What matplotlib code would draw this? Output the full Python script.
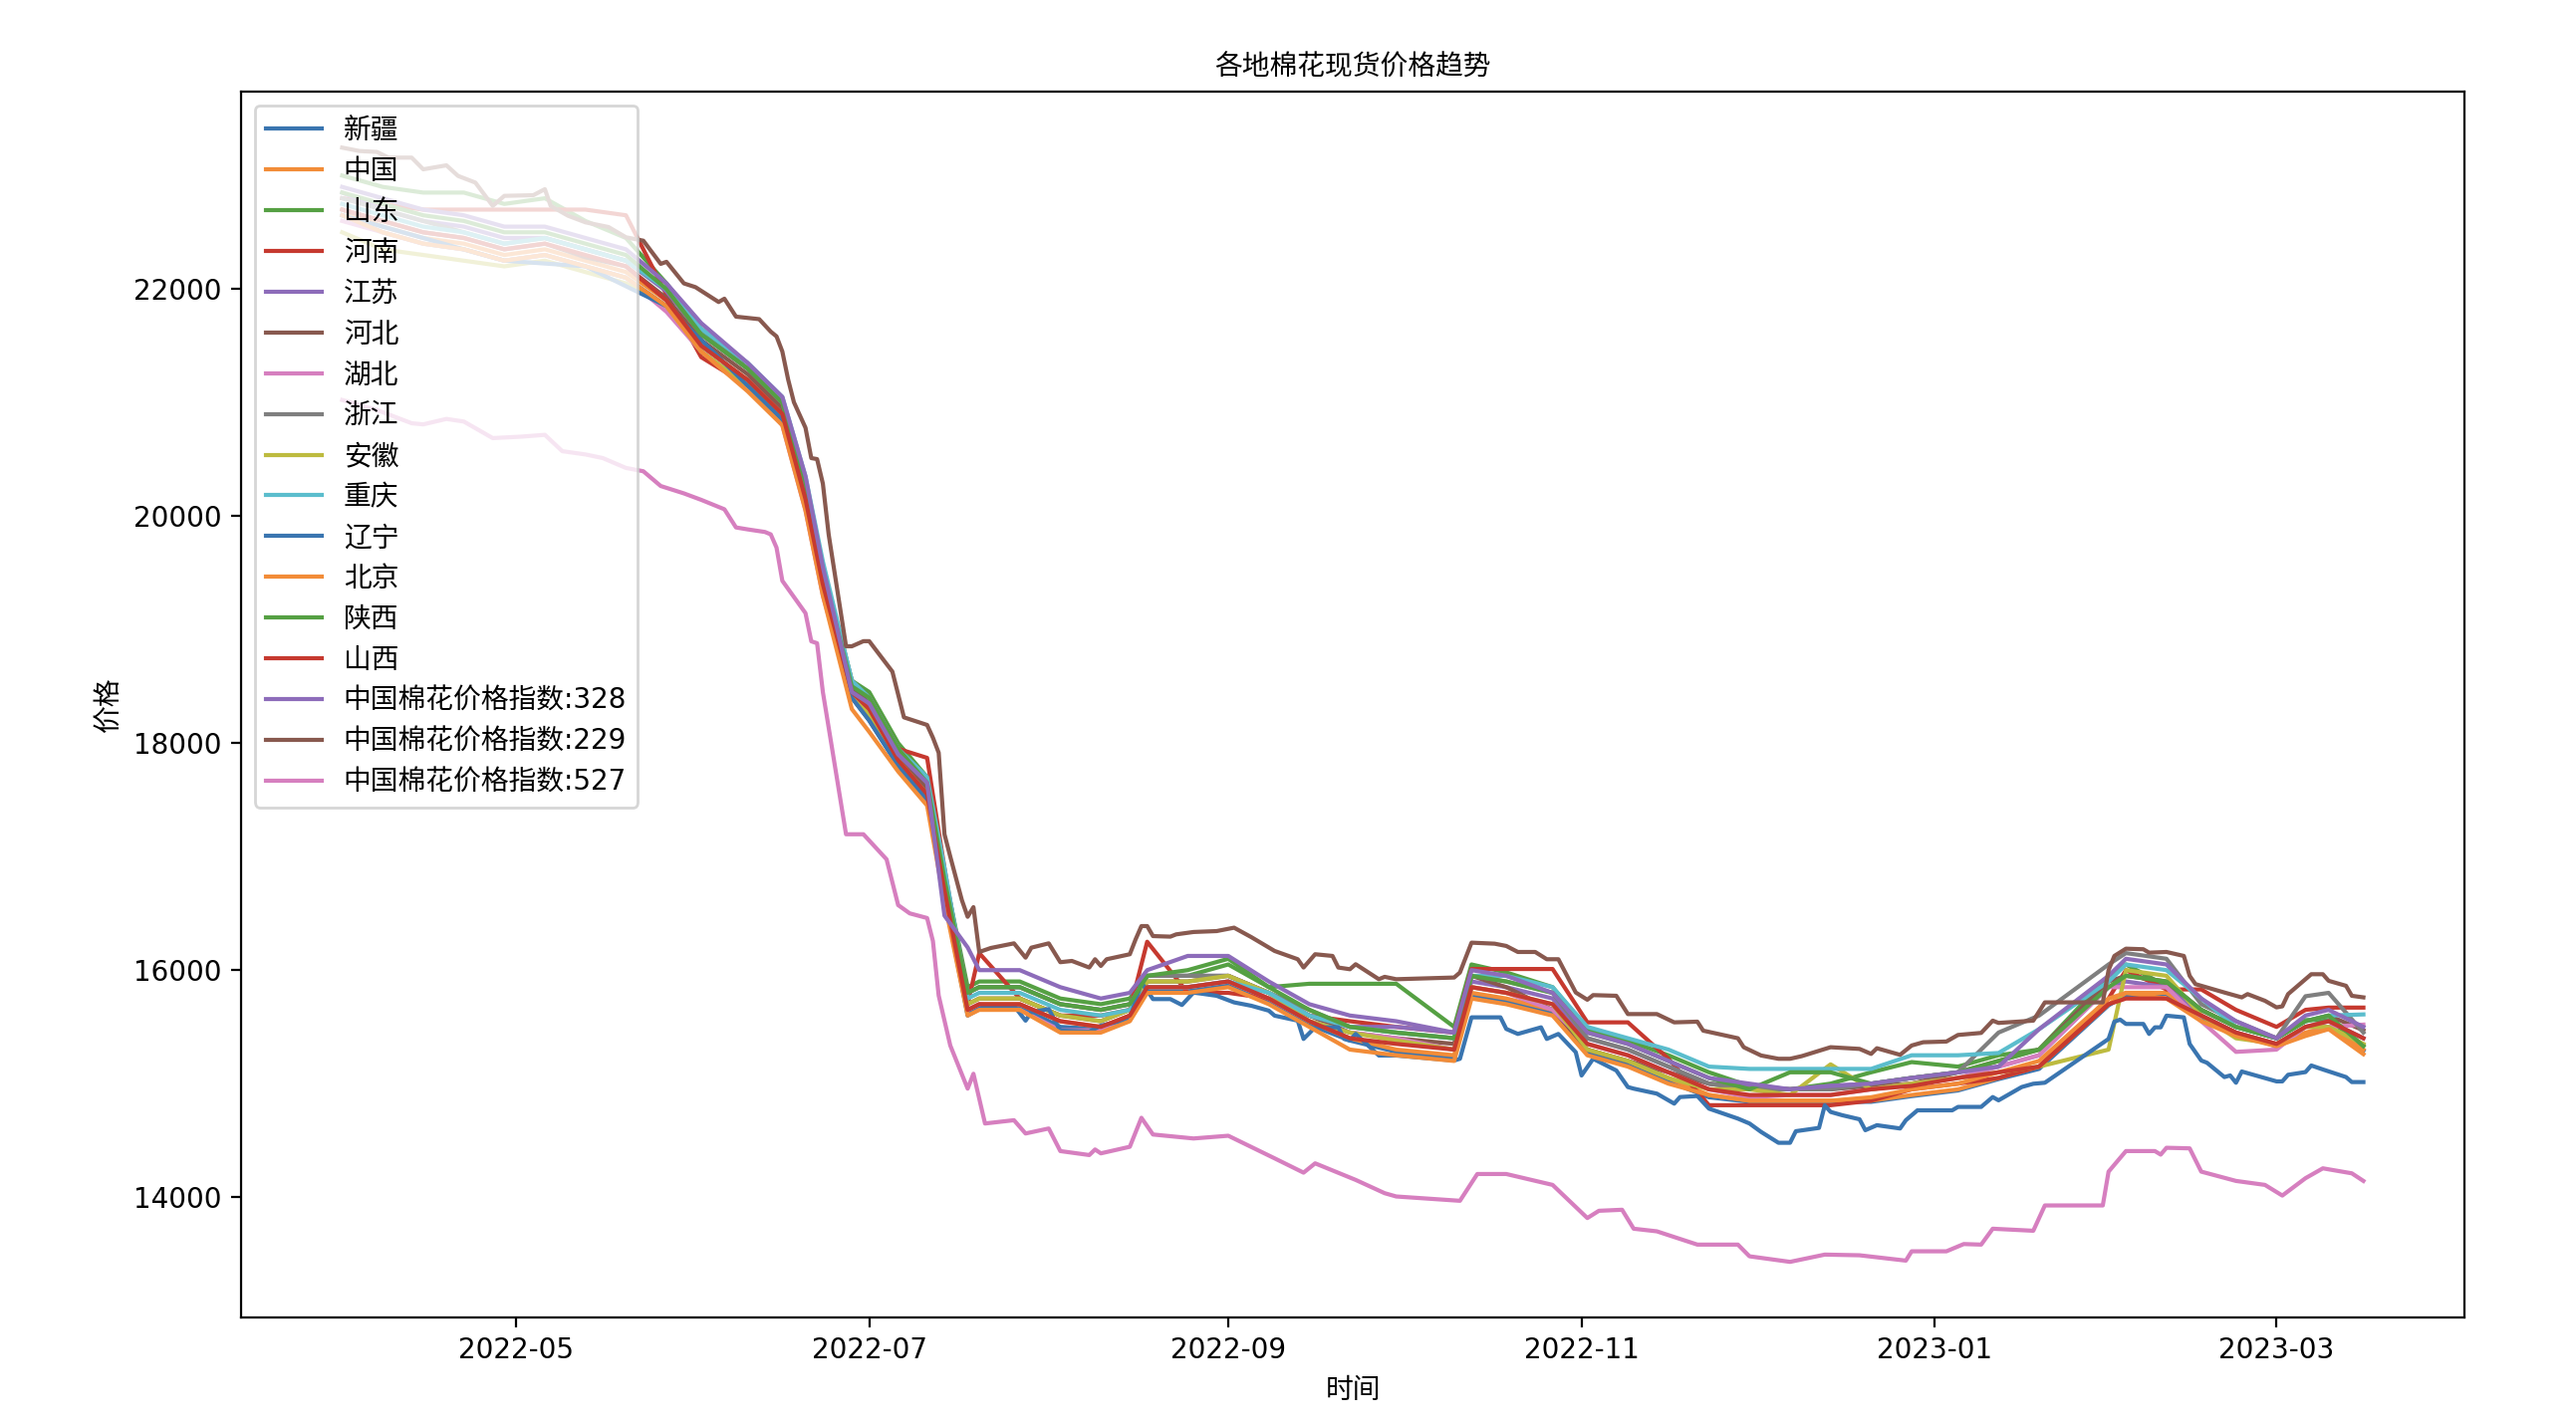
import matplotlib
matplotlib.use("Agg")
import matplotlib.pyplot as plt
import matplotlib.dates as mdates
from cycler import cycler
import pandas as pd

plt.rcParams['font.family'] = ['DejaVu Sans', 'Noto Sans CJK SC']
plt.rcParams['axes.unicode_minus'] = False
# tab10 as it appears in the reference screenshot (slightly muted)
plt.rcParams['axes.prop_cycle'] = cycler(color=[
    "#3a75b0", "#f28c38", "#55a043", "#c6392f", "#8d6cba",
    "#88594f", "#d67fbf", "#7f7f7f", "#bdbb3f", "#5bbdcd",
])

# ---------------------------------------------------------------------------
# Data
# ---------------------------------------------------------------------------

# shared weekly-ish sampling for the regional cluster
grid_dates = [
    "2022-04-01", "2022-04-08", "2022-04-15", "2022-04-22", "2022-04-29",
    "2022-05-06", "2022-05-13", "2022-05-20", "2022-05-27", "2022-06-02",
    "2022-06-10", "2022-06-16", "2022-06-20", "2022-06-23", "2022-06-28",
    "2022-07-01", "2022-07-06", "2022-07-11", "2022-07-14", "2022-07-18",
    "2022-07-20", "2022-07-27", "2022-08-03", "2022-08-10", "2022-08-15",
    "2022-08-18", "2022-08-25", "2022-09-01", "2022-09-08", "2022-09-15",
    "2022-09-22", "2022-09-30", "2022-10-10", "2022-10-13", "2022-10-19",
    "2022-10-27", "2022-11-02", "2022-11-09", "2022-11-16", "2022-11-23",
    "2022-11-30", "2022-12-07", "2022-12-14", "2022-12-21", "2022-12-28",
    "2023-01-05", "2023-01-12", "2023-01-19", "2023-01-31", "2023-02-03",
    "2023-02-10", "2023-02-16", "2023-02-22", "2023-03-01", "2023-03-06",
    "2023-03-10", "2023-03-16",
]

xinjiang = [
    22650, 22500, 22400, 22350, 22250,
    22300, 22200, 22100, 21850, 21450,
    21150, 20850, 20100, 19350, 18400,
    18200, 17800, 17500, 16650, 15620,
    15680, 15680, 15500, 15480, 15560,
    15820, 15830, 15880, 15720, 15520,
    15380, 15280, 15230, 15780, 15730,
    15620, 15280, 15170, 15020, 14880,
    14840, 14830, 14840, 14840, 14890,
    14940, 15040, 15130, 15690, 15780,
    15790, 15580, 15440, 15330, 15440,
    15490, 15290,
]
zhongguo = [
    22700, 22550, 22450, 22400, 22300,
    22350, 22250, 22150, 21900, 21500,
    21200, 20900, 20150, 19400, 18450,
    18250, 17850, 17550, 16700, 15650,
    15700, 15700, 15550, 15500, 15600,
    15850, 15850, 15900, 15750, 15550,
    15400, 15300, 15250, 15800, 15750,
    15650, 15300, 15200, 15050, 14900,
    14850, 14850, 14850, 14850, 14900,
    14950, 15050, 15150, 15700, 15800,
    15800, 15600, 15450, 15350, 15450,
    15500, 15300,
]
shandong = [
    23000, 22900, 22850, 22850, 22750,
    22800, 22600, 22450, 22050, 21650,
    21300, 21000, 20300, 19550, 18550,
    18450, 18000, 17700, 16850, 15850,
    15900, 15900, 15750, 15700, 15750,
    15950, 15950, 16050, 15850, 15880,
    15880, 15880, 15500, 16050, 15980,
    15850, 15480, 15380, 15250, 15100,
    14980, 14950, 15000, 15100, 15190,
    15150, 15250, 15300, 15950, 16050,
    15860, 15650, 15500, 15400, 15560,
    15560, 15340,
]
henan = [
    22800, 22750, 22700, 22700, 22700,
    22700, 22700, 22650, 21950, 21400,
    21150, 20850, 20100, 19400, 18500,
    18400, 17950, 17870, 16900, 15700,
    16150, 15750, 15600, 15600, 15650,
    16250, 15800, 15800, 15750, 15600,
    15550, 15500, 15450, 16010, 16010,
    16010, 15540, 15540, 15220, 14810,
    14810, 14810, 14810, 14850, 14950,
    15000, 15050, 15150, 15750, 16000,
    15830, 15830, 15650, 15500, 15650,
    15670, 15670,
]
jiangsu = [
    22850, 22700, 22600, 22550, 22450,
    22450, 22350, 22250, 21980, 21600,
    21300, 21000, 20250, 19500, 18450,
    18350, 17900, 17650, 16800, 15800,
    15850, 15850, 15700, 15650, 15700,
    15950, 15950, 15950, 15800, 15600,
    15500, 15500, 15450, 15900, 15850,
    15750, 15400, 15300, 15150, 15000,
    14980, 14950, 14980, 15000, 15050,
    15100, 15150, 15250, 15850, 15900,
    15850, 15600, 15450, 15350, 15500,
    15550, 15400,
]
hebei = [
    22700, 22600, 22500, 22450, 22350,
    22400, 22280, 22200, 21920, 21550,
    21250, 20950, 20200, 19450, 18500,
    18350, 17900, 17600, 16750, 15700,
    15750, 15750, 15600, 15550, 15650,
    15900, 15900, 15950, 15800, 15600,
    15450, 15400, 15350, 15950, 15850,
    15650, 15300, 15200, 15100, 15000,
    14950, 14950, 14950, 14980, 15000,
    15100, 15200, 15300, 15900, 15950,
    15900, 15650, 15500, 15400, 15550,
    15600, 15470,
]
hubei = [
    22600, 22500, 22400, 22350, 22250,
    22300, 22200, 22100, 21800, 21450,
    21150, 20800, 20050, 19300, 18400,
    18250, 17800, 17500, 16700, 15650,
    15700, 15650, 15470, 15470, 15600,
    15850, 15850, 15900, 15750, 15550,
    15450, 15400, 15300, 15850, 15800,
    15650, 15350, 15250, 15100, 14950,
    14880, 14900, 14900, 14950, 15000,
    15050, 15150, 15250, 15850, 15850,
    15850, 15550, 15280, 15300, 15500,
    15500, 15520,
]
zhejiang = [
    22800, 22700, 22600, 22500, 22400,
    22450, 22350, 22250, 22000, 21600,
    21300, 21000, 20250, 19550, 18550,
    18400, 17950, 17650, 16850, 15800,
    15850, 15850, 15700, 15650, 15700,
    15950, 15950, 15950, 15800, 15650,
    15500, 15450, 15400, 15950, 15900,
    15800, 15400, 15300, 15150, 15000,
    14950, 14950, 14950, 15000, 15050,
    15100, 15450, 15600, 16050, 16150,
    16100, 15700, 15550, 15400, 15770,
    15800, 15450,
]
anhui = [
    22500, 22350, 22300, 22250, 22200,
    22250, 22150, 22050, 21850, 21450,
    21150, 20850, 20100, 19350, 18400,
    18250, 17850, 17550, 16700, 15700,
    15750, 15750, 15600, 15550, 15650,
    15900, 15900, 15950, 15800, 15550,
    15450, 15380, 15300, 15850, 15800,
    15700, 15300, 15200, 15050, 14950,
    14950, 14900, 15170, 14950, 15000,
    15050, 15100, 15150, 15300, 16000,
    15950, 15600, 15400, 15350, 15500,
    15500, 15350,
]
chongqing = [
    22750, 22650, 22550, 22500, 22400,
    22450, 22350, 22250, 22000, 21650,
    21350, 21050, 20350, 19600, 18550,
    18400, 17950, 17700, 16900, 15750,
    15800, 15800, 15650, 15600, 15650,
    15850, 15850, 15900, 15800, 15600,
    15500, 15450, 15400, 15950, 15950,
    15850, 15500, 15400, 15300, 15150,
    15130, 15130, 15130, 15130, 15250,
    15250, 15270, 15480, 15900, 16050,
    16000, 15750, 15500, 15400, 15550,
    15600, 15610,
]
beijing = [
    22650, 22500, 22400, 22350, 22250,
    22300, 22200, 22100, 21850, 21450,
    21100, 20800, 20050, 19300, 18300,
    18100, 17750, 17450, 16600, 15600,
    15650, 15650, 15450, 15450, 15550,
    15800, 15800, 15850, 15700, 15500,
    15300, 15250, 15200, 15750, 15700,
    15600, 15250, 15150, 15000, 14900,
    14850, 14850, 14850, 14880, 14950,
    15000, 15100, 15200, 15750, 15800,
    15750, 15550, 15420, 15330, 15420,
    15480, 15260,
]
shaanxi = [
    22850, 22750, 22650, 22600, 22500,
    22500, 22400, 22300, 22000, 21600,
    21300, 21000, 20300, 19500, 18500,
    18400, 17950, 17650, 16800, 15800,
    15850, 15850, 15700, 15650, 15700,
    15950, 16000, 16100, 15850, 15650,
    15500, 15450, 15400, 15950, 15900,
    15800, 15450, 15350, 15200, 15050,
    14950, 15100, 15100, 15000, 15050,
    15100, 15200, 15300, 15850, 15950,
    15900, 15650, 15500, 15400, 15550,
    15600, 15330,
]
shanxi = [
    22700, 22600, 22500, 22450, 22350,
    22400, 22300, 22200, 21900, 21500,
    21200, 20900, 20150, 19400, 18450,
    18300, 17850, 17550, 16700, 15650,
    15700, 15700, 15550, 15500, 15600,
    15850, 15850, 15900, 15750, 15550,
    15400, 15350, 15300, 15850, 15800,
    15700, 15350, 15250, 15100, 14950,
    14900, 14900, 14900, 14950, 14980,
    15050, 15100, 15150, 15700, 15750,
    15750, 15600, 15450, 15350, 15500,
    15550, 15400,
]
cci_328 = [
    22900, 22800, 22700, 22650, 22550,
    22550, 22450, 22350, 22050, 21700,
    21350, 21050, 20350, 19550, 18450,
    18350, 17900, 17650, 16480, 16200,
    16000, 16000, 15850, 15750, 15800,
    16000, 16125, 16125, 15900, 15700,
    15600, 15550, 15450, 16000, 15950,
    15800, 15450, 15350, 15200, 15050,
    15000, 14950, 14980, 15000, 15050,
    15100, 15150, 15480, 15950, 16100,
    16050, 15750, 15550, 15400, 15600,
    15650, 15500,
]

# series that stand apart from the cluster get their own, denser sampling
liaoning_dates = [
    "2022-04-01", "2022-04-15", "2022-04-29", "2022-05-13", "2022-05-27",
    "2022-06-10", "2022-06-16", "2022-06-20", "2022-06-23", "2022-06-28",
    "2022-07-01", "2022-07-06", "2022-07-11", "2022-07-14", "2022-07-18",
    "2022-07-21", "2022-07-26", "2022-07-28", "2022-07-29", "2022-08-01",
    "2022-08-03", "2022-08-08", "2022-08-10", "2022-08-15", "2022-08-17",
    "2022-08-19", "2022-08-22", "2022-08-24", "2022-08-26", "2022-08-30",
    "2022-09-02", "2022-09-05", "2022-09-08", "2022-09-09", "2022-09-13",
    "2022-09-14", "2022-09-16", "2022-09-20", "2022-09-21", "2022-09-22",
    "2022-09-23", "2022-09-27", "2022-09-30", "2022-10-10", "2022-10-11",
    "2022-10-13", "2022-10-18", "2022-10-19", "2022-10-21", "2022-10-25",
    "2022-10-26", "2022-10-28", "2022-10-31", "2022-11-01", "2022-11-03",
    "2022-11-07", "2022-11-09", "2022-11-10", "2022-11-14", "2022-11-17",
    "2022-11-18", "2022-11-21", "2022-11-23", "2022-11-28", "2022-11-30",
    "2022-12-02", "2022-12-05", "2022-12-07", "2022-12-08", "2022-12-12",
    "2022-12-13", "2022-12-14", "2022-12-16", "2022-12-19", "2022-12-20",
    "2022-12-22", "2022-12-26", "2022-12-27", "2022-12-29", "2023-01-04",
    "2023-01-05", "2023-01-09", "2023-01-11", "2023-01-12", "2023-01-16",
    "2023-01-18", "2023-01-20", "2023-01-31", "2023-02-01", "2023-02-02",
    "2023-02-03", "2023-02-06", "2023-02-07", "2023-02-08", "2023-02-09",
    "2023-02-10", "2023-02-13", "2023-02-14", "2023-02-16", "2023-02-17",
    "2023-02-20", "2023-02-21", "2023-02-22", "2023-02-23", "2023-03-01",
    "2023-03-02", "2023-03-03", "2023-03-06", "2023-03-07", "2023-03-09",
    "2023-03-13", "2023-03-14", "2023-03-16",
]
liaoning = [
    22650, 22450, 22250, 22200, 21850,
    21150, 20850, 20100, 19350, 18400,
    18200, 17800, 17500, 16650, 15600,
    15686, 15686, 15555, 15630, 15657,
    15467, 15458, 15511, 15570, 15891,
    15745, 15745, 15693, 15803, 15774,
    15716, 15686, 15643, 15599, 15555,
    15394, 15496, 15496, 15394, 15380,
    15438, 15248, 15248, 15204, 15219,
    15584, 15584, 15482, 15438, 15496,
    15394, 15438, 15277, 15072, 15219,
    15116, 14970, 14956, 14912, 14824,
    14882, 14891, 14780, 14692, 14649,
    14575, 14479, 14479, 14581, 14610,
    14809, 14751, 14722, 14686, 14590,
    14634, 14605, 14678, 14765, 14765,
    14795, 14795, 14882, 14853, 14970,
    14999, 15008, 15394, 15546, 15564,
    15526, 15526, 15438, 15496, 15496,
    15599, 15584, 15350, 15204, 15184,
    15058, 15072, 15008, 15107, 15020,
    15020, 15078, 15102, 15160, 15125,
    15058, 15014, 15014,
]

cci_229_dates = [
    "2022-04-01", "2022-04-04", "2022-04-07", "2022-04-09", "2022-04-13",
    "2022-04-15", "2022-04-19", "2022-04-21", "2022-04-24", "2022-04-27",
    "2022-04-29", "2022-05-04", "2022-05-06", "2022-05-07", "2022-05-10",
    "2022-05-13", "2022-05-17", "2022-05-20", "2022-05-23", "2022-05-26",
    "2022-05-27", "2022-05-30", "2022-06-01", "2022-06-05", "2022-06-06",
    "2022-06-08", "2022-06-12", "2022-06-14", "2022-06-15", "2022-06-16",
    "2022-06-17", "2022-06-18", "2022-06-20", "2022-06-21", "2022-06-22",
    "2022-06-23", "2022-06-24", "2022-06-27", "2022-06-28", "2022-06-30",
    "2022-07-01", "2022-07-05", "2022-07-07", "2022-07-11", "2022-07-12",
    "2022-07-13", "2022-07-14", "2022-07-15", "2022-07-17", "2022-07-18",
    "2022-07-19", "2022-07-20", "2022-07-22", "2022-07-26", "2022-07-28",
    "2022-07-29", "2022-08-01", "2022-08-03", "2022-08-05", "2022-08-08",
    "2022-08-09", "2022-08-10", "2022-08-11", "2022-08-15", "2022-08-16",
    "2022-08-17", "2022-08-18", "2022-08-19", "2022-08-22", "2022-08-23",
    "2022-08-26", "2022-08-30", "2022-09-02", "2022-09-05", "2022-09-09",
    "2022-09-13", "2022-09-14", "2022-09-16", "2022-09-19", "2022-09-20",
    "2022-09-22", "2022-09-23", "2022-09-27", "2022-09-28", "2022-09-30",
    "2022-10-10", "2022-10-11", "2022-10-13", "2022-10-17", "2022-10-19",
    "2022-10-21", "2022-10-24", "2022-10-26", "2022-10-28", "2022-10-31",
    "2022-11-02", "2022-11-03", "2022-11-07", "2022-11-09", "2022-11-14",
    "2022-11-17", "2022-11-21", "2022-11-22", "2022-11-28", "2022-11-29",
    "2022-12-02", "2022-12-05", "2022-12-07", "2022-12-09", "2022-12-14",
    "2022-12-19", "2022-12-21", "2022-12-22", "2022-12-26", "2022-12-28",
    "2022-12-30", "2023-01-03", "2023-01-05", "2023-01-09", "2023-01-11",
    "2023-01-12", "2023-01-18", "2023-01-20", "2023-01-30", "2023-01-31",
    "2023-02-01", "2023-02-03", "2023-02-06", "2023-02-07", "2023-02-10",
    "2023-02-13", "2023-02-14", "2023-02-15", "2023-02-20", "2023-02-23",
    "2023-02-24", "2023-02-27", "2023-03-01", "2023-03-02", "2023-03-03",
    "2023-03-07", "2023-03-09", "2023-03-10", "2023-03-13", "2023-03-14",
    "2023-03-16",
]
cci_229 = [
    23246, 23216, 23208, 23158, 23158,
    23055, 23090, 22997, 22938, 22733,
    22821, 22827, 22880, 22733, 22646,
    22588, 22546, 22456, 22426, 22222,
    22240, 22050, 22017, 21886, 21915,
    21757, 21735, 21625, 21583, 21450,
    21204, 21003, 20778, 20511, 20502,
    20286, 19839, 18853, 18853, 18898,
    18898, 18630, 18227, 18160, 18048,
    17915, 17197, 17000, 16617, 16470,
    16555, 16160, 16195, 16236, 16110,
    16198, 16236, 16070, 16081, 16023,
    16096, 16037, 16096, 16140, 16271,
    16388, 16388, 16300, 16295, 16315,
    16336, 16344, 16374, 16290, 16169,
    16096, 16023, 16140, 16125, 16023,
    16008, 16052, 15920, 15941, 15920,
    15935, 15979, 16242, 16233, 16213,
    16160, 16160, 16096, 16096, 15803,
    15739, 15780, 15774, 15613, 15613,
    15540, 15546, 15467, 15400, 15321,
    15248, 15219, 15219, 15242, 15321,
    15306, 15262, 15312, 15254, 15336,
    15365, 15371, 15429, 15447, 15555,
    15535, 15555, 15716, 15716, 16000,
    16125, 16189, 16184, 16154, 16160,
    16125, 15950, 15877, 15803, 15760,
    15789, 15730, 15672, 15681, 15789,
    15964, 15964, 15906, 15862, 15774,
    15760,
]

cci_527_dates = [
    "2022-04-01", "2022-04-07", "2022-04-13", "2022-04-15", "2022-04-19",
    "2022-04-22", "2022-04-27", "2022-05-02", "2022-05-06", "2022-05-09",
    "2022-05-13", "2022-05-16", "2022-05-20", "2022-05-23", "2022-05-26",
    "2022-05-30", "2022-06-02", "2022-06-06", "2022-06-08", "2022-06-10",
    "2022-06-13", "2022-06-14", "2022-06-15", "2022-06-16", "2022-06-20",
    "2022-06-21", "2022-06-22", "2022-06-23", "2022-06-24", "2022-06-27",
    "2022-06-30", "2022-07-04", "2022-07-06", "2022-07-08", "2022-07-11",
    "2022-07-12", "2022-07-13", "2022-07-15", "2022-07-18", "2022-07-19",
    "2022-07-21", "2022-07-26", "2022-07-28", "2022-08-01", "2022-08-03",
    "2022-08-08", "2022-08-09", "2022-08-10", "2022-08-15", "2022-08-17",
    "2022-08-19", "2022-08-26", "2022-09-01", "2022-09-09", "2022-09-14",
    "2022-09-16", "2022-09-23", "2022-09-28", "2022-09-30", "2022-10-11",
    "2022-10-14", "2022-10-19", "2022-10-27", "2022-11-02", "2022-11-04",
    "2022-11-08", "2022-11-10", "2022-11-14", "2022-11-21", "2022-11-28",
    "2022-11-30", "2022-12-07", "2022-12-13", "2022-12-19", "2022-12-27",
    "2022-12-28", "2023-01-03", "2023-01-06", "2023-01-09", "2023-01-11",
    "2023-01-18", "2023-01-20", "2023-01-30", "2023-01-31", "2023-02-03",
    "2023-02-08", "2023-02-09", "2023-02-10", "2023-02-14", "2023-02-16",
    "2023-02-22", "2023-02-27", "2023-03-02", "2023-03-06", "2023-03-09",
    "2023-03-14", "2023-03-16",
]
cci_527 = [
    21023, 20935, 20818, 20808, 20856,
    20833, 20687, 20700, 20716, 20572,
    20543, 20511, 20424, 20395, 20265,
    20200, 20143, 20060, 19900, 19883,
    19860, 19839, 19722, 19430, 19145,
    18897, 18880, 18450, 18138, 17197,
    17197, 16976, 16573, 16500, 16459,
    16257, 15776, 15336, 14956, 15087,
    14649, 14678, 14561, 14605, 14406,
    14371, 14420, 14386, 14444, 14699,
    14552, 14517, 14541, 14342, 14216,
    14298, 14152, 14035, 14006, 13968,
    14204, 14204, 14108, 13816, 13880,
    13889, 13722, 13699, 13582, 13582,
    13479, 13430, 13494, 13488, 13441,
    13523, 13523, 13587, 13582, 13722,
    13704, 13927, 13927, 14225, 14406,
    14406, 14375, 14435, 14430, 14225,
    14143, 14108, 14014, 14167, 14254,
    14210, 14143,
]

# legend order == plotting order (colours follow the colour cycle)
series = [
    ("新疆", grid_dates, xinjiang),
    ("中国", grid_dates, zhongguo),
    ("山东", grid_dates, shandong),
    ("河南", grid_dates, henan),
    ("江苏", grid_dates, jiangsu),
    ("河北", grid_dates, hebei),
    ("湖北", grid_dates, hubei),
    ("浙江", grid_dates, zhejiang),
    ("安徽", grid_dates, anhui),
    ("重庆", grid_dates, chongqing),
    ("辽宁", liaoning_dates, liaoning),
    ("北京", grid_dates, beijing),
    ("陕西", grid_dates, shaanxi),
    ("山西", grid_dates, shanxi),
    ("中国棉花价格指数:328", grid_dates, cci_328),
    ("中国棉花价格指数:229", cci_229_dates, cci_229),
    ("中国棉花价格指数:527", cci_527_dates, cci_527),
]

# ---------------------------------------------------------------------------
# Figure
# ---------------------------------------------------------------------------
fig = plt.figure(figsize=(12.93, 7.16), dpi=200)
ax = fig.add_axes([0.0936, 0.0761, 0.8631, 0.8597])

for name, dates, values in series:
    ax.plot(pd.to_datetime(dates), values, label=name)

ax.set_title("各地棉花现货价格趋势", fontsize=10)
ax.set_xlabel("时间")
ax.set_ylabel("价格")
ax.set_ylim(12940, 23740)
ax.xaxis.set_major_locator(mdates.MonthLocator(bymonth=[1, 3, 5, 7, 9, 11]))
ax.xaxis.set_major_formatter(mdates.DateFormatter("%Y-%m"))
ax.legend(loc="upper left", labelspacing=0.465)

fig.savefig("out.png", dpi=200)
